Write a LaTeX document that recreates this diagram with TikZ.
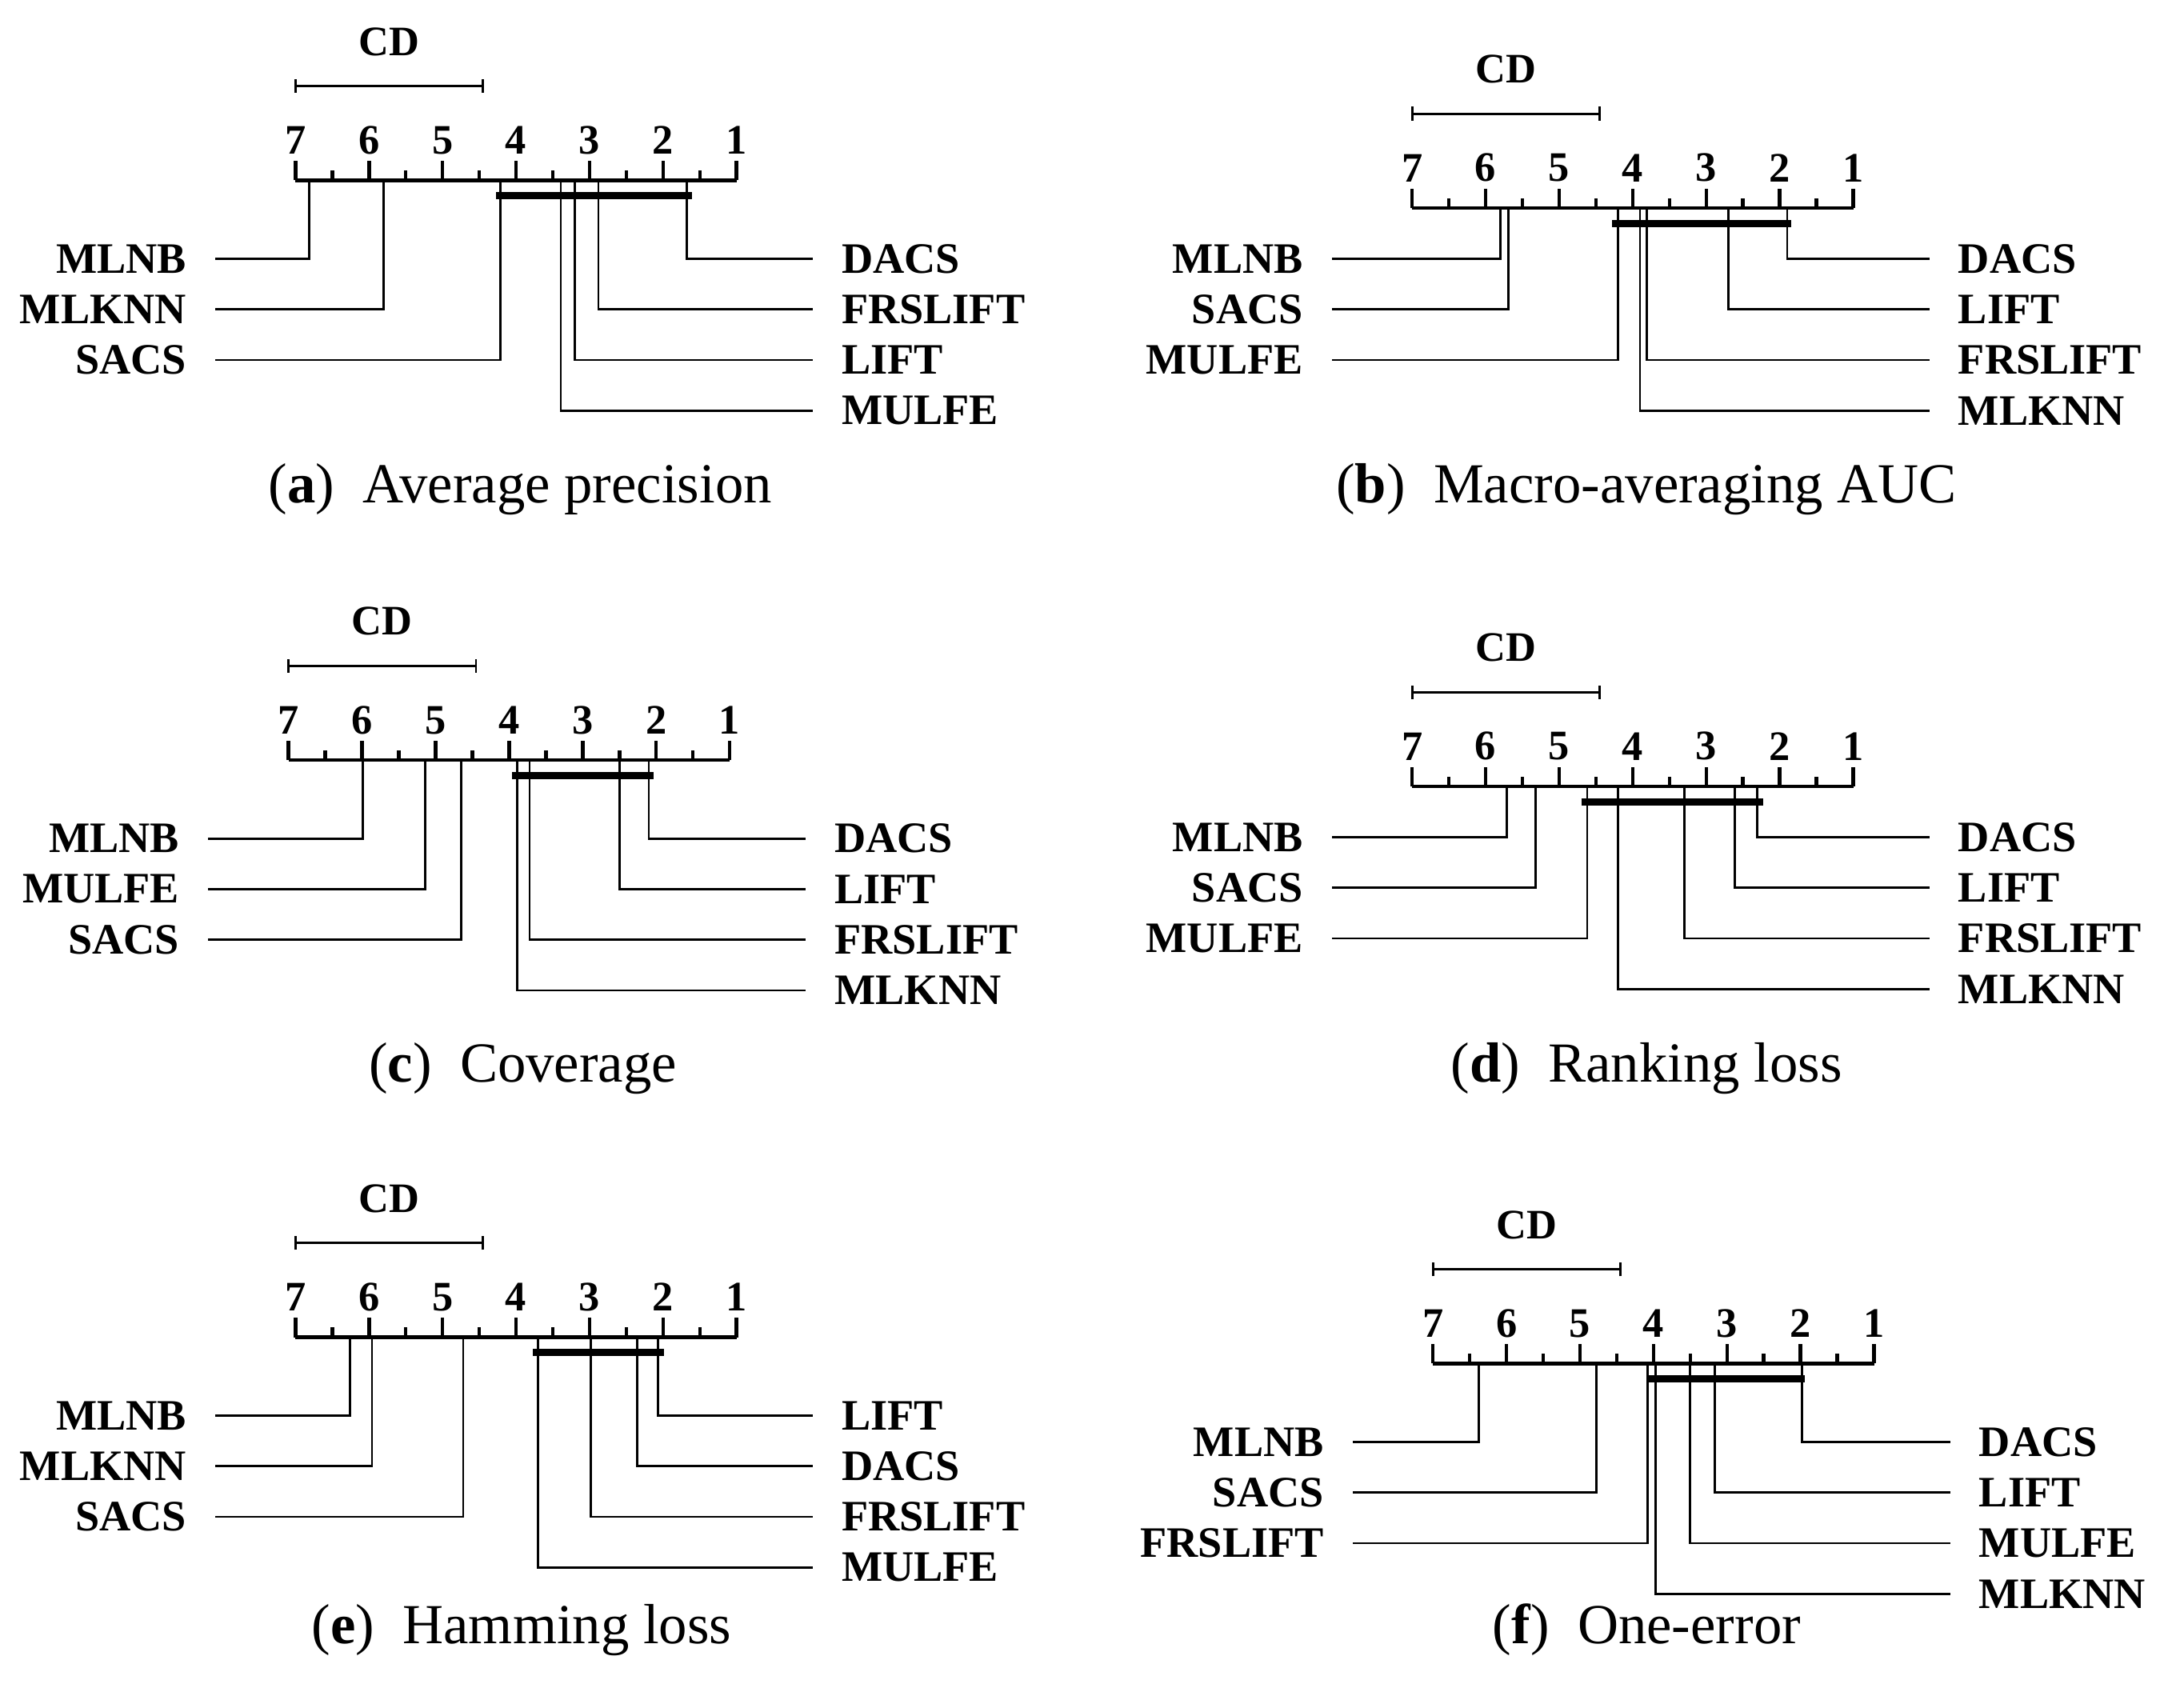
\documentclass[tikz,border=0pt]{standalone}
\usepackage{fontspec}
\setmainfont{Liberation Serif}
\usetikzlibrary{positioning,calc}

\tikzset{
  lab/.style={font=\fontsize{8.9}{9}\selectfont\bfseries, inner xsep=0.2cm, inner ysep=0pt},
  num/.style={font=\fontsize{8.6}{9}\selectfont\bfseries, inner sep=1pt},
  axisline/.style={line width=0.75pt},
  conn/.style={line width=0.45pt},
  clique/.style={line width=1.5pt},
  capt/.style={font=\fontsize{11.6}{13}\selectfont}
}
\newcommand{\rowbase}{20}

% axis with ticks and CD bar, ranks 7..1
\newcommand{\cdaxis}[1]{%
  \draw[axisline] (0,0) -- (318,0);
  \foreach \i in {1,...,7}{
    \draw[axisline] ({(7-\i)*53},0) -- ++(0,-14) node[above,num] {\i};
  }
  \foreach \i in {1.5,2.5,...,6.5}{
    \draw[axisline] ({(7-\i)*53},0) -- ++(0,-7);
  }
  \draw[conn] (0,-68) -- ({#1*53},-68);
  \draw[conn] (0,-63) -- (0,-73);
  \draw[conn] ({#1*53},-63) -- ({#1*53},-73);
  \node[num] (cd) at ({#1*26.5},-100) {CD};
}
% left label: rank, row, text
\newcommand{\lrank}[3]{%
  \coordinate (lt#2) at ({(7-#1)*53},0);
  \node[lab, anchor=east] (ll#2) at (-58,{\rowbase+36.5*#2}) {#3};
  \draw[conn] (lt#2) |- (ll#2);
}
% right label: rank, row, text
\newcommand{\rrank}[3]{%
  \coordinate (rt#2) at ({(7-#1)*53},0);
  \node[lab, anchor=west] (rl#2) at (373,{\rowbase+36.5*#2}) {#3};
  \draw[conn] (rt#2) |- (rl#2);
}
\newcommand{\clq}[2]{\draw[clique] ({(7-#1)*53},11) -- ({(7-#2)*53},11);}

\begin{document}
\begin{tikzpicture}[x=0.01cm, y=-0.01cm]
\useasboundingbox (0,0) rectangle (1560,1231);

% (a)
\begin{scope}[shift={(213,130)}]
  \cdaxis{2.55}
  \clq{4.27}{1.61}
  \lrank{6.81}{1}{MLNB}
  \lrank{5.80}{2}{MLKNN}
  \lrank{4.21}{3}{SACS}
  \rrank{1.68}{1}{DACS}
  \rrank{2.88}{2}{FRSLIFT}
  \rrank{3.20}{3}{LIFT}
  \rrank{3.39}{4}{MULFE}
  \node[capt] (capa) at (162,223) {(\textbf{a})\ \ Average precision};
\end{scope}

% (b)
\begin{scope}[shift={(1018,150)}]
  \def\rowbase{0}
  \cdaxis{2.55}
  \clq{4.28}{1.84}
  \lrank{5.80}{1}{MLNB}
  \lrank{5.69}{2}{SACS}
  \lrank{4.20}{3}{MULFE}
  \rrank{1.90}{1}{DACS}
  \rrank{2.70}{2}{LIFT}
  \rrank{3.81}{3}{FRSLIFT}
  \rrank{3.90}{4}{MLKNN}
  \node[capt] (capb) at (169,203) {(\textbf{b})\ \ Macro-averaging AUC};
\end{scope}

% (c)
\begin{scope}[shift={(208,548)}]
  \cdaxis{2.55}
  \clq{3.96}{2.04}
  \lrank{5.99}{1}{MLNB}
  \lrank{5.14}{2}{MULFE}
  \lrank{4.65}{3}{SACS}
  \rrank{2.10}{1}{DACS}
  \rrank{2.50}{2}{LIFT}
  \rrank{3.72}{3}{FRSLIFT}
  \rrank{3.89}{4}{MLKNN}
  \node[capt] (capc) at (169,222) {(\textbf{c})\ \ Coverage};
\end{scope}

% (d)
\begin{scope}[shift={(1018,567)}]
  \def\rowbase{0}
  \cdaxis{2.55}
  \clq{4.70}{2.23}
  \lrank{5.71}{1}{MLNB}
  \lrank{5.32}{2}{SACS}
  \lrank{4.62}{3}{MULFE}
  \rrank{2.31}{1}{DACS}
  \rrank{2.61}{2}{LIFT}
  \rrank{3.30}{3}{FRSLIFT}
  \rrank{4.20}{4}{MLKNN}
  \node[capt] (capd) at (169,203) {(\textbf{d})\ \ Ranking loss};
\end{scope}

% (e)
\begin{scope}[shift={(213,964)}]
  \cdaxis{2.55}
  \clq{3.77}{1.99}
  \lrank{6.26}{1}{MLNB}
  \lrank{5.96}{2}{MLKNN}
  \lrank{4.72}{3}{SACS}
  \rrank{2.07}{1}{LIFT}
  \rrank{2.35}{2}{DACS}
  \rrank{2.98}{3}{FRSLIFT}
  \rrank{3.70}{4}{MULFE}
  \node[capt] (cape) at (163,211) {(\textbf{e})\ \ Hamming loss};
\end{scope}

% (f)
\begin{scope}[shift={(1033,983)}]
  \cdaxis{2.55}
  \clq{4.08}{1.94}
  \lrank{6.38}{1}{MLNB}
  \lrank{4.78}{2}{SACS}
  \lrank{4.08}{3}{FRSLIFT}
  \rrank{1.98}{1}{DACS}
  \rrank{3.17}{2}{LIFT}
  \rrank{3.50}{3}{MULFE}
  \rrank{3.97}{4}{MLKNN}
  \node[capt] (capf) at (154,192) {(\textbf{f})\ \ One-error};
\end{scope}
\end{tikzpicture}
\end{document}
